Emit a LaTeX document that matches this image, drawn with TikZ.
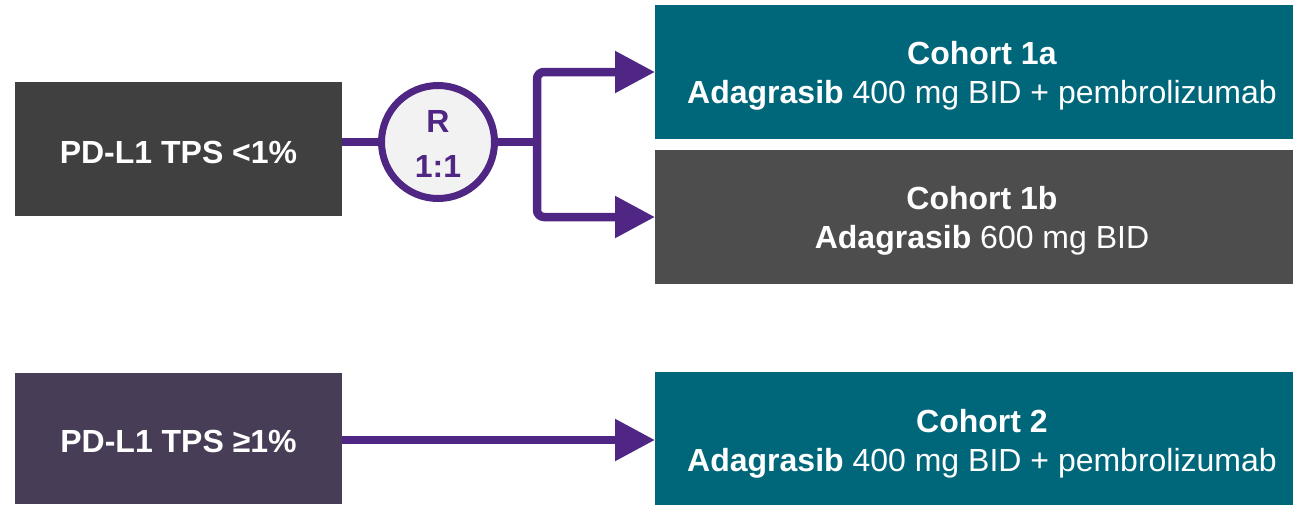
\documentclass[tikz,border=0pt]{standalone}
\usepackage{fontspec}
\setmainfont{Liberation Sans}
\usetikzlibrary{arrows.meta,calc}
\definecolor{boxdark}{HTML}{404040}
\definecolor{boxgray}{HTML}{4D4D4D}
\definecolor{boxteal}{HTML}{00677A}
\definecolor{boxplum}{HTML}{483D56}
\definecolor{linkpurple}{HTML}{4F2683}
\definecolor{circfill}{HTML}{F2F2F2}
\newcommand{\lowertext}[2]{\raisebox{-#1}[\height][\depth]{#2}}
\tikzset{
  blockbox/.style={rectangle, inner sep=0pt, outer sep=0pt, text=white, align=center,
    font=\fontsize{32}{39}\selectfont},
  leftbox/.style={blockbox, minimum width=327pt, font=\fontsize{32}{39}\selectfont\bfseries},
  cohortbox/.style={blockbox, minimum width=654pt, minimum height=134pt},
  randcircle/.style={circle, draw=linkpurple, line width=7pt, fill=circfill, minimum size=113pt,
    inner sep=0pt, text=linkpurple, align=center, font=\fontsize{32}{45}\selectfont\bfseries},
  link/.style={draw=linkpurple, line width=8.5pt},
  tip/.style={-{Triangle[length=40pt,width=40pt]}},
  twotips/.style={{Triangle[length=40pt,width=40pt]}-{Triangle[length=40pt,width=40pt]}},
}
\begin{document}
\begin{tikzpicture}[x=1pt,y=-1pt]
\useasboundingbox (0,0) rectangle (1293,504);
\clip (0,0) rectangle (1293,504);
\node[leftbox, fill=boxdark, minimum height=134pt] (L1) at (178.5,149) {\lowertext{3pt}{PD-L1 TPS <1\%}};
\node[leftbox, fill=boxplum, minimum height=131pt] (L2) at (178.5,438) {\lowertext{3pt}{PD-L1 TPS ≥1\%}};
\node[cohortbox, fill=boxteal, anchor=north west] (C1a) at (655,5)
  {\lowertext{4pt}{\parbox{654pt}{\centering\textbf{Cohort 1a}\\\textbf{Adagrasib} 400 mg BID + pembrolizumab}}};
\node[cohortbox, fill=boxgray, anchor=north west] (C1b) at (655,150)
  {\lowertext{4pt}{\parbox{654pt}{\centering\textbf{Cohort 1b}\\\textbf{Adagrasib} 600 mg BID}}};
\node[cohortbox, fill=boxteal, anchor=north west, minimum height=136pt] (C2) at (655,372)
  {\lowertext{4pt}{\parbox{654pt}{\centering\textbf{Cohort 2}\\\textbf{Adagrasib} 400 mg BID + pembrolizumab}}};
\node[randcircle] (R) at (438,142) {\lowertext{2pt}{\parbox{50pt}{\centering R\\1:1}}};
\coordinate (J) at (537,142);
\draw[link] (L1.east |- R.center) -- (R.west);
\draw[link] (R.east) -- (J);
\draw[link, twotips, rounded corners=7pt] (C1a.west) -| (J) |- (C1b.west);
\draw[link, tip] (L2.east |- C2.west) -- (C2.west);
\end{tikzpicture}
\end{document}
